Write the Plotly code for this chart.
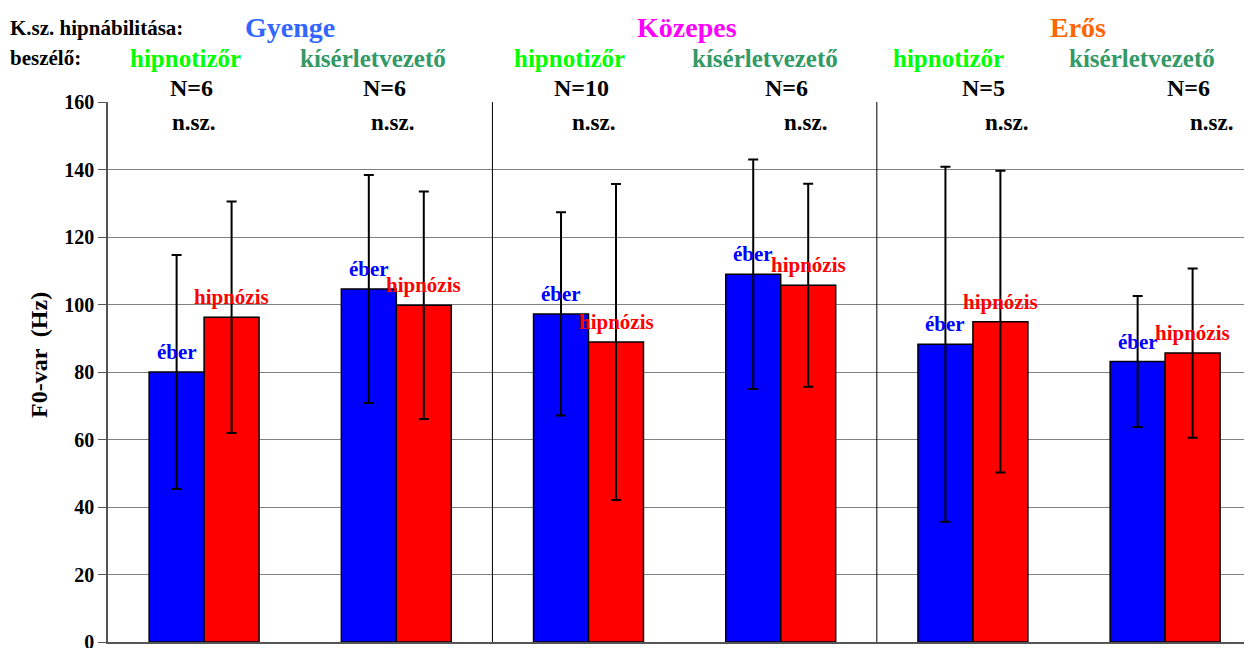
import plotly.graph_objects as go

# ---------------- data ----------------
hypno_levels = ["Gyenge", "Közepes", "Erős"]
hypno_colors = ["#3366FF", "#FF00FF", "#FF6600"]
speakers = ["hipnotizőr", "kísérletvezető", "hipnotizőr", "kísérletvezető", "hipnotizőr", "kísérletvezető"]
n_labels = ["N=6", "N=6", "N=10", "N=6", "N=5", "N=6"]
sig_labels = ["n.sz."] * 6
categories = [0, 1, 2, 3, 4, 5]

eber_mean = [80.0, 104.6, 97.2, 109.0, 88.2, 83.1]
eber_sd = [34.7, 33.8, 30.1, 34.0, 52.6, 19.4]
hipn_mean = [96.2, 99.8, 88.9, 105.7, 94.9, 85.6]
hipn_sd = [34.3, 33.7, 46.8, 30.1, 44.7, 25.1]

y_ticks = [0, 20, 40, 60, 80, 100, 120, 140, 160]

# ---------------- layout helpers ----------------
OFF = 8  # page body offset
W, H = 1252 - OFF, 648
ML, MR, MT, MB = 100, 0, 94, 14
# plot area in screen pixels
SX0, SY1 = ML + OFF, H - MB + OFF
PW, PH = W - ML - MR, H - MT - MB
FONT = "Liberation Serif, Times New Roman, serif"


def px(xp):
    return (xp - SX0) / PW


def py(yp):
    return (SY1 - yp) / PH


fig = go.Figure()
fig.add_trace(go.Bar(
    x=categories, y=eber_mean, name="éber",
    marker=dict(color="#0000FF", line=dict(color="black", width=1.5)),
    error_y=dict(type="data", array=eber_sd, visible=True, color="black", thickness=2, width=5),
))
fig.add_trace(go.Bar(
    x=categories, y=hipn_mean, name="hipnózis",
    marker=dict(color="#FF0000", line=dict(color="black", width=1.5)),
    error_y=dict(type="data", array=hipn_sd, visible=True, color="black", thickness=2, width=5),
))

ann = []
# bar labels
for i in categories:
    ann.append(dict(x=i, y=eber_mean[i], xref="x", yref="y", text="éber", showarrow=False,
                    xshift=-27.5, yshift=20, xanchor="center", yanchor="middle",
                    font=dict(family=FONT, size=21, color="#0000FF", weight="bold")))
    ann.append(dict(x=i, y=hipn_mean[i], xref="x", yref="y", text="hipnózis", showarrow=False,
                    xshift=27.5, yshift=20, xanchor="center", yanchor="middle",
                    font=dict(family=FONT, size=21, color="#FF0000", weight="bold")))

# header rows
ann.append(dict(x=px(8), y=py(28), xref="paper", yref="paper", text="K.sz. hipnábilitása:",
                showarrow=False, xanchor="left", yanchor="middle",
                font=dict(family=FONT, size=21, color="black", weight="bold")))
ann.append(dict(x=px(8), y=py(58), xref="paper", yref="paper", text="beszélő:",
                showarrow=False, xanchor="left", yanchor="middle",
                font=dict(family=FONT, size=21, color="black", weight="bold")))

level_x = [290, 687, 1078]
for lvl, col, xp in zip(hypno_levels, hypno_colors, level_x):
    ann.append(dict(x=px(xp), y=py(27), xref="paper", yref="paper", text=lvl, showarrow=False,
                    xanchor="center", yanchor="middle",
                    font=dict(family=FONT, size=28, color=col, weight="bold")))

speaker_x = [185, 373, 569, 765, 948, 1142]
for sp, xp in zip(speakers, speaker_x):
    col = "#00FF00" if sp == "hipnotizőr" else "#339966"
    ann.append(dict(x=px(xp), y=py(58), xref="paper", yref="paper", text=sp, showarrow=False,
                    xanchor="center", yanchor="middle",
                    font=dict(family=FONT, size=25, color=col, weight="bold")))

n_x = [191, 384, 581, 786, 983, 1188]
for t, xp in zip(n_labels, n_x):
    ann.append(dict(x=px(xp), y=py(88), xref="paper", yref="paper", text=t, showarrow=False,
                    xanchor="center", yanchor="middle",
                    font=dict(family=FONT, size=24, color="black", weight="bold")))

sig_x = [193, 392, 593, 805, 1006, 1211]
for t, xp in zip(sig_labels, sig_x):
    ann.append(dict(x=px(xp), y=py(122), xref="paper", yref="paper", text=t, showarrow=False,
                    xanchor="center", yanchor="middle",
                    font=dict(family=FONT, size=23, color="black", weight="bold")))

# y-axis title
ann.append(dict(x=px(39), y=py(355), xref="paper", yref="paper", text="F0-var  (Hz)", showarrow=False,
                textangle=-90, xanchor="center", yanchor="middle",
                font=dict(family=FONT, size=24, color="black", weight="bold")))

shapes = []
for xs in [1.5, 3.5]:
    shapes.append(dict(type="line", xref="x", yref="paper", x0=xs, x1=xs, y0=0, y1=1,
                       line=dict(color="black", width=1)))

fig.update_layout(
    width=W, height=H,
    margin=dict(l=ML, r=MR, t=MT, b=MB),
    paper_bgcolor="white", plot_bgcolor="white",
    barmode="group", bargap=0.428, bargroupgap=0,
    showlegend=False,
    annotations=ann, shapes=shapes,
    xaxis=dict(range=[-0.5, 5.452], showticklabels=False, showgrid=False, zeroline=False,
               showline=True, linecolor="#555555", linewidth=1.5, ticks=""),
    yaxis=dict(range=[0, 160], tickvals=y_ticks, showgrid=True, gridcolor="#808080", gridwidth=1.2,
               zeroline=False, showline=True, linecolor="#555555", linewidth=1.5,
               ticks="outside", ticklen=8, tickcolor="#555555",
               tickfont=dict(family=FONT, size=20, color="black", weight="bold")),
)

fig.write_html("out.html")
